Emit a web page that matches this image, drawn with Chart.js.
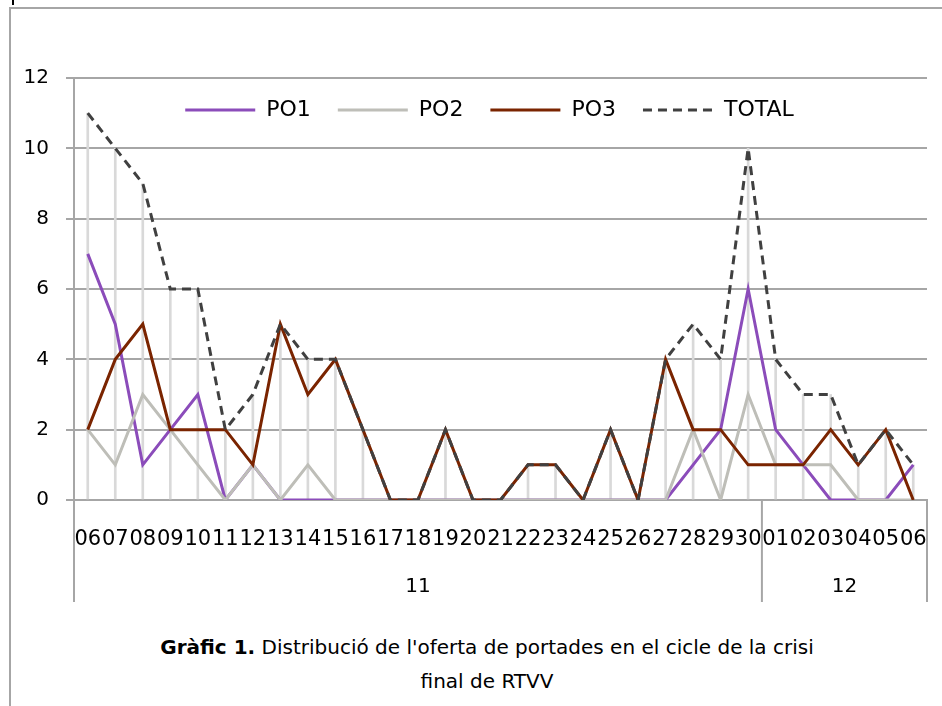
<!DOCTYPE html>
<html>
<head>
<meta charset="utf-8">
<script src="https://cdn.jsdelivr.net/npm/chart.js@4.4.1/dist/chart.umd.min.js"></script>
<style>
  body { margin: 0; background: #fff; font-family: 'DejaVu Sans', sans-serif; }
  #frame { position: absolute; left: 9px; top: 7px; width: 1000px; height: 800px; border-left: 2px solid #a6a6a6; border-top: 2px solid #a6a6a6; }
  #cursor { position: absolute; left: 12px; top: 0; width: 2px; height: 5px; background: #000; }
  #chartBox { position: absolute; left: 0; top: 0; }
  #caption { position: absolute; left: 0; width: 974px; top: 630px; text-align: center; font-size: 20px; line-height: 34px; color: #000; }
</style>
</head>
<body>
<div id="frame"></div>
<div id="cursor"></div>
<div id="chartBox"><canvas id="chart" width="942" height="620"></canvas></div>
<div id="caption"><b>Gràfic 1.</b> Distribució de l'oferta de portades en el cicle de la crisi<br>final de RTVV</div>
<script>
// days on the axis, grouped by month
const days = ['06','07','08','09','10','11','12','13','14','15','16','17','18','19','20',
              '21','22','23','24','25','26','27','28','29','30','01','02','03','04','05','06'];
const months = ['11', '12'];
const monthDays = [25, 6];

const po1   = [7,5,1,2,3,0,1,0,0,0,0,0,0,0,0,0,0,0,0,0,0,0,1,2,6,2,1,0,0,0,1];
const po2   = [2,1,3,2,1,0,1,0,1,0,0,0,0,0,0,0,0,0,0,0,0,0,2,0,3,1,1,1,0,0,0];
const po3   = [2,4,5,2,2,2,1,5,3,4,2,0,0,2,0,0,1,1,0,2,0,4,2,2,1,1,1,2,1,2,0];
const total = [11,10,9,6,6,2,3,5,4,4,2,0,0,2,0,0,1,1,0,2,0,4,5,4,10,4,3,3,1,2,1];

const FONT = "'DejaVu Sans', sans-serif";
const GRID = '#a6a6a6';

// month row under the day labels + moving the legend inside the plot
const monthAxis = {
  id: 'monthAxis',
  afterLayout(chart) {
    const lg = chart.legend;
    const dy = 110 - (lg.top + lg.options.labels.padding + 11);
    lg.top += dy; lg.bottom += dy;
    lg.left += 26; lg.right += 26;
  },
  afterDraw(chart) {
    const x = chart.scales.x, ctx = chart.ctx;
    ctx.save();
    ctx.strokeStyle = GRID;
    ctx.lineWidth = 2;
    ctx.font = '20px ' + FONT;
    ctx.fillStyle = '#000';
    ctx.textAlign = 'center';
    ctx.textBaseline = 'middle';
    let start = 0;
    let left = x.left;
    const drawEdge = px => {
      ctx.beginPath();
      ctx.moveTo(px, x.top);
      ctx.lineTo(px, x.top + 102);
      ctx.stroke();
    };
    drawEdge(left);
    months.forEach((m, i) => {
      const end = start + monthDays[i];
      const right = end < days.length
        ? (x.getPixelForTick(end - 1) + x.getPixelForTick(end)) / 2
        : x.right;
      drawEdge(right);
      ctx.fillText(m, (left + right) / 2, x.top + 87);
      left = right;
      start = end;
    });
    ctx.restore();
  }
};

const ctx = document.getElementById('chart').getContext('2d');
new Chart(ctx, {
  type: 'line',
  data: {
    labels: days,
    datasets: [
      { label: 'PO1', data: po1, borderColor: '#8b4cba', borderWidth: 3, pointRadius: 0, tension: 0, order: 4 },
      { label: 'PO2', data: po2, borderColor: '#bebeb8', borderWidth: 3, pointRadius: 0, tension: 0, order: 3 },
      { label: 'PO3', data: po3, borderColor: '#7a2400', borderWidth: 3, pointRadius: 0, tension: 0, order: 2 },
      { label: 'TOTAL', data: total, borderColor: '#404040', borderWidth: 3, borderDash: [9, 6], pointRadius: 0, tension: 0, order: 1 },
      // drop lines from TOTAL down to the axis
      { type: 'bar', label: 'drop', data: total, backgroundColor: '#d9d9d9', barThickness: 2, order: 5 }
    ]
  },
  options: {
    responsive: false,
    animation: false,
    layout: { padding: { left: 0, right: 15, top: 19, bottom: 0 } },
    plugins: {
      tooltip: { enabled: false },
      legend: {
        position: 'top',
        labels: {
          color: '#000',
          font: { family: FONT, size: 22 },
          padding: 27,
          usePointStyle: true,
          pointStyleWidth: 70,
          generateLabels: chart => chart.data.datasets.slice(0, 4).map((ds, i) => ({
            text: ds.label,
            strokeStyle: ds.borderColor,
            fillStyle: ds.borderColor,
            lineWidth: ds.borderWidth,
            lineDash: ds.borderDash || [],
            lineCap: 'butt',
            pointStyle: 'line',
            hidden: false,
            fontColor: '#000',
            datasetIndex: i
          }))
        }
      }
    },
    scales: {
      x: {
        offset: true,
        grid: { display: false, drawTicks: false },
        border: { display: true, color: GRID, width: 2 },
        ticks: { autoSkip: false, maxRotation: 0, minRotation: 0, color: '#000', font: { family: FONT, size: 21 }, padding: 27 },
        afterFit: s => { s.height = 120; s.paddingLeft = 0; s.paddingRight = 0; }
      },
      y: {
        min: 0,
        max: 12,
        grid: { color: GRID, lineWidth: 2, tickLength: 8, drawTicks: true },
        border: { color: GRID, width: 2 },
        ticks: { stepSize: 2, color: '#000', font: { family: FONT, size: 20 }, padding: 17 },
        afterFit: s => { s.width = 74; }
      }
    }
  },
  plugins: [monthAxis]
});
</script>
</body>
</html>
